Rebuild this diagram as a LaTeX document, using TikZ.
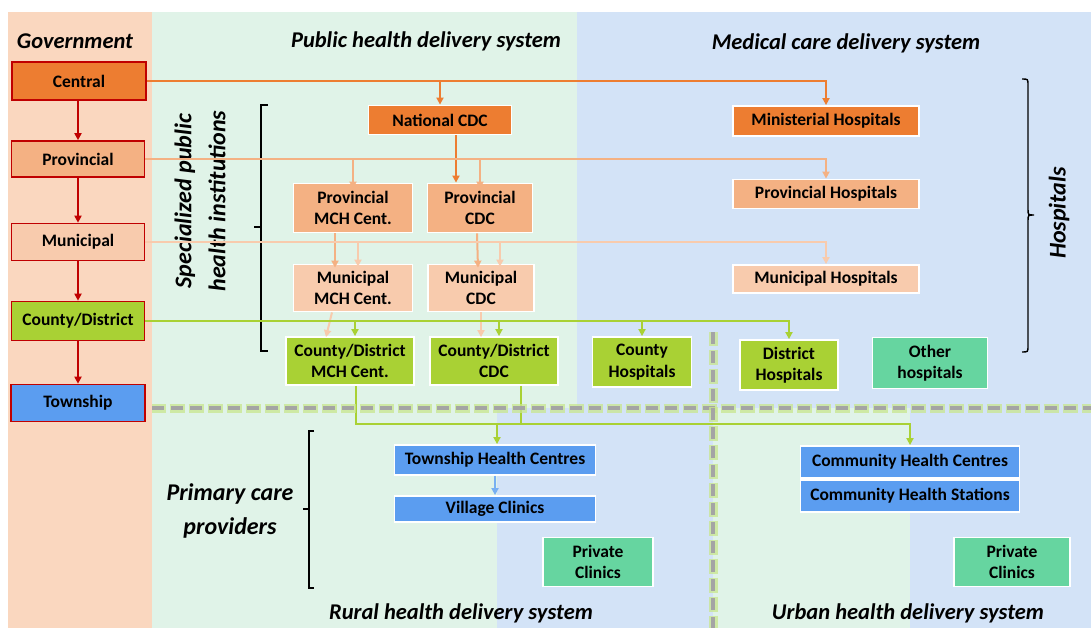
\documentclass[tikz,border=0pt]{standalone}
\usepackage{fontspec}
\setmainfont{Carlito}
\usetikzlibrary{arrows.meta,calc}
\definecolor{cOrD}{HTML}{ED7D31}
\definecolor{cOrM}{HTML}{F4B183}
\definecolor{cOrL}{HTML}{F8CBAD}
\definecolor{cGrn}{HTML}{A9D134}
\definecolor{cBlu}{HTML}{5B9DF0}
\definecolor{cBluL}{HTML}{78B0F2}
\definecolor{cMint}{HTML}{66D5A0}
\definecolor{govred}{HTML}{C00000}
\definecolor{bgO}{HTML}{FAD7BF}
\definecolor{bgG}{HTML}{E0F3E8}
\definecolor{bgB}{HTML}{D3E3F7}
\definecolor{dashgray}{HTML}{A4A4A4}
\definecolor{glow}{HTML}{C9E68E}
\newcommand\nodefont{\bfseries\fontsize{17.5}{21.5}\selectfont}
\newcommand\ttlfont{\bfseries\itshape\fontsize{22.5}{27}\selectfont}
\newcommand\bigfont{\bfseries\itshape\fontsize{24}{34}\selectfont}
\begin{document}
\begin{tikzpicture}[x=1pt,y=-1pt,
  box/.style={draw=white, line width=1.8pt, inner sep=0pt, align=center, font=\nodefont, text=black},
  gov/.style={draw=govred, line width=1.6pt, inner sep=0pt, align=center, font=\nodefont, text=black, minimum width=133pt, minimum height=37pt},
  ttl/.style={font=\ttlfont, inner sep=0pt},
  big/.style={font=\bigfont, inner sep=0pt, align=center},
  conn/.style={line width=2pt, -{Triangle[length=7pt,width=7pt]}},
  plain/.style={line width=2pt},
  brk/.style={line width=1.4pt, black},
  sepglow/.style={line width=9pt, glow, opacity=0.75, dash pattern=on 15pt off 4pt, dash phase=1.5pt},
  sepdash/.style={line width=4.5pt, dashgray, dash pattern=on 12pt off 7pt},
]
\useasboundingbox (0,0) rectangle (1091,628);
% backgrounds
\fill[bgO] (8,12) rectangle (152,628);
\fill[bgG] (152,12) rectangle (577,408);
\fill[bgB] (577,12) rectangle (1091,408);
\fill[bgG] (152,408) rectangle (497,628);
\fill[bgB] (497,408) rectangle (713,628);
\fill[bgG] (713,408) rectangle (910,628);
\fill[bgB] (910,408) rectangle (1091,628);

% titles
\node[ttl] (tgov) at (75,41) {Government};
\node[ttl] (tpub) at (426,41) {Public health delivery system};
\node[ttl] (tmed) at (846,43) {Medical care delivery system};
\node[ttl] (trur) at (461,613) {Rural health delivery system};
\node[ttl] (turb) at (908,613) {Urban health delivery system};
\node[big, rotate=90] (tspec) at (200,201) {Specialized public\\health institutions};
\node[big] (tprim) at (230,511) {Primary care\\providers};
\node[big, rotate=90] (thosp) at (1059,213) {Hospitals};

% brackets
\draw[brk] (268,105) -- (261,105) -- (261,351) -- (268,351);
\draw[brk] (261,227) -- (254,227);
\draw[brk] (314,431) -- (309,431) -- (309,588) -- (314,588);
\draw[brk] (309,509) -- (303,509);
\draw[brk] (1022,79) .. controls (1028,79) .. (1028,85) -- (1028,209)
  .. controls (1028,215) .. (1034,215) .. controls (1028,215) .. (1028,221)
  -- (1028,346) .. controls (1028,352) .. (1022,352);

% government column
\node[gov, fill=cOrD, minimum width=134pt, minimum height=38pt] (gcen) at (79,81) {Central};
\node[gov, fill=cOrM, minimum height=36pt] (gprov) at (78,159) {Provincial};
\node[gov, fill=cOrL] (gmun) at (78,242) {Municipal};
\node[gov, fill=cGrn, minimum height=39pt] (gcty) at (78,321) {County/District};
\node[gov, fill=cBlu, minimum width=134pt] (gtwn) at (78,403) {Township};
\foreach \a/\b in {gcen/gprov,gprov/gmun,gmun/gcty,gcty/gtwn}
  \draw[conn, govred] (\a.south -| gprov) -- (\b.north -| gprov);

% public health nodes
\node[box, fill=cOrD, minimum width=143pt, minimum height=29pt] (natcdc) at (440,120) {National CDC};
\node[box, fill=cOrM, minimum width=119pt, minimum height=49pt] (pmch) at (353,208) {Provincial\\MCH Cent.};
\node[box, fill=cOrM, minimum width=105pt, minimum height=49pt] (pcdc) at (480,208) {Provincial\\CDC};
\node[box, fill=cOrL, minimum width=119pt, minimum height=47pt] (mmch) at (353,288) {Municipal\\MCH Cent.};
\node[box, fill=cOrL, minimum width=106pt, minimum height=47pt] (mcdc) at (481,288) {Municipal\\CDC};
\node[box, fill=cGrn, minimum width=128pt, minimum height=48pt] (cmch) at (350,361) {County/District\\MCH Cent.};
\node[box, fill=cGrn, minimum width=128pt, minimum height=48pt] (ccdc) at (494,361) {County/District\\CDC};

% hospitals
\node[box, fill=cOrD, minimum width=186pt, minimum height=30pt] (mhosp) at (826,121) {Ministerial Hospitals};
\node[box, fill=cOrM, minimum width=186pt, minimum height=29pt] (phosp) at (826,194) {Provincial Hospitals};
\node[box, fill=cOrL, minimum width=186pt, minimum height=28pt] (muhosp) at (826,279) {Municipal Hospitals};
\node[box, fill=cGrn, minimum width=99pt, minimum height=50pt] (chosp) at (642,362) {County\\Hospitals};
\node[box, fill=cGrn, minimum width=98pt, minimum height=50pt] (dhosp) at (789,365) {District\\Hospitals};
\node[box, fill=cMint, minimum width=115pt, minimum height=51pt] (ohosp) at (930,363) {Other\\hospitals};

% primary care
\node[box, fill=cBlu, minimum width=201pt, minimum height=30pt] (thc) at (495,460) {Township Health Centres};
\node[box, fill=cBlu, minimum width=201pt, minimum height=26pt] (vcl) at (495,509) {Village Clinics};
\node[box, fill=cMint, minimum width=110pt, minimum height=49pt] (pcr) at (598,562) {Private\\Clinics};
\node[box, fill=cBlu, minimum width=219pt, minimum height=32pt] (chc) at (910,462) {Community Health Centres};
\node[box, fill=cBlu, minimum width=219pt, minimum height=32pt] (chs) at (910,496) {Community Health Stations};
\node[box, fill=cMint, minimum width=116pt, minimum height=49pt] (pcu) at (1012,562) {Private\\Clinics};

% central level
\draw[conn, cOrD] (gcen.east) -| (mhosp.north);
\draw[conn, cOrD] (gcen.east -| natcdc) -- (natcdc.north);
\draw[conn, cOrD] ([xshift=16pt]natcdc.south) -- ([xshift=16pt]natcdc.south |- pcdc.north);
% provincial level
\draw[conn, cOrM] (gprov.east) -| (phosp.north);
\draw[conn, cOrM] (gprov.east -| pmch) -- ([yshift=-6pt]pmch.north);
\draw[conn, cOrM] (gprov.east -| pcdc) -- ([yshift=-6pt]pcdc.north);
\draw[conn, cOrM] ([xshift=-18pt]pmch.south) -- ([xshift=-18pt,yshift=-4pt]mmch.north);
\draw[conn, cOrM] ([xshift=-3pt]pcdc.south) -- ([xshift=-3pt,yshift=-4pt]mcdc.north);
% municipal level
\draw[conn, cOrL] (gmun.east) -| (muhosp.north);
\draw[conn, cOrL] ([xshift=5pt]gmun.east -| mmch) -- ([xshift=5pt,yshift=-3pt]mmch.north);
\draw[conn, cOrL] ([xshift=19pt]gmun.east -| mcdc) -- ([xshift=19pt,yshift=-3pt]mcdc.north);
\draw[conn, cOrL] ([xshift=-21pt]mmch.south) -- ([xshift=-24pt,yshift=-1pt]cmch.north);
\draw[conn, cOrL] (mcdc.south) -- ([yshift=-1pt]mcdc.south |- ccdc.north);
% county level
\draw[conn, cGrn] (gcty.east) -| (dhosp.north);
\draw[conn, cGrn] ([xshift=5pt]gcty.east -| cmch) -- ([xshift=5pt]cmch.north);
\draw[conn, cGrn] ([xshift=5pt]gcty.east -| ccdc) -- ([xshift=5pt]ccdc.north);
\draw[conn, cGrn] (gcty.east -| chosp) -- (chosp.north);
% to primary care
\coordinate (bus) at (356,424);
\draw[conn, cGrn] ([xshift=6pt]cmch.south) -- ([xshift=6pt]cmch.south |- bus) -| (chc.north);
\draw[plain, cGrn] ([xshift=27pt]ccdc.south) -- ([xshift=27pt]ccdc.south |- bus);
\draw[conn, cGrn] ([xshift=2pt]thc.north |- bus) -- ([xshift=2pt]thc.north);
\draw[conn, cBluL] (thc.south) -- (vcl.north);

% separators
\draw[sepglow] (152,408) -- (1091,408);
\draw[sepdash] (152,408) -- (1091,408);
\draw[sepglow] (713,332) -- (713,628);
\draw[sepdash] (713,332) -- (713,628);
\end{tikzpicture}
\end{document}
